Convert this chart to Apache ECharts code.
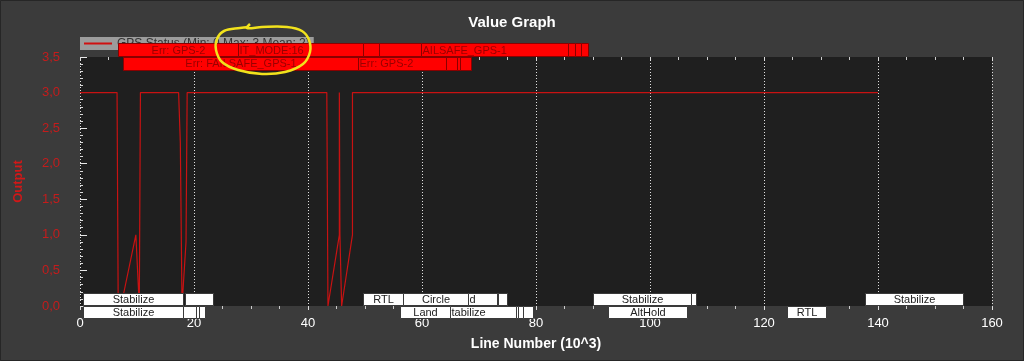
<!DOCTYPE html>
<html>
<head>
<meta charset="utf-8">
<script src="https://cdn.jsdelivr.net/npm/echarts@6/dist/echarts.min.js"></script>
<style>
html,body{margin:0;padding:0;background:#3b3b3b;}
#chart{width:1024px;height:361px;}
</style>
</head>
<body>
<div id="chart"></div>
<script>
// ---- data (x in thousands of log lines) ----
const seriesName = 'GPS Status (Min: 0 Max: 3 Mean: 2)';
const gpsX = [0, 6.5, 6.7, 7.2, 9.8, 10.4, 10.6, 17.3, 17.6, 17.9, 18.6, 18.8, 43.3, 43.5, 43.6, 45.5, 45.5, 45.6, 45.9, 47.8, 47.8, 140];
const gpsY = [3, 3, 0, 0, 1.0, 0, 3, 3, 2.3, 0, 0.9, 3, 3, 0, 0, 1.0, 3, 1.0, 0, 1.0, 3, 3];
const yTicks = [0, 0.5, 1, 1.5, 2, 2.5, 3, 3.5];
const xTicks = [0, 20, 40, 60, 80, 100, 120, 140, 160];

// event boxes: [start, end, text, align]
const errRow1 = [
  [6.67, 27.72, 'Err: GPS-2', 'center'],
  [27.72, 49.65, 'IT_MODE:16', 'left'],
  [49.65, 52.46, '', 'center'],
  [52.46, 59.82, '', 'center'],
  [59.82, 85.61, 'AILSAFE_GPS-1', 'left'],
  [85.61, 86.84, '', 'center'],
  [86.84, 87.89, '', 'center'],
  [87.89, 89.12, '', 'center']
];
const errRow2 = [
  [7.54, 48.77, 'Err: FAILSAFE_GPS-1', 'center'],
  [48.77, 64.21, 'Err: GPS-2', 'left'],
  [64.21, 66.14, '', 'center'],
  [66.14, 66.67, '', 'center'],
  [66.67, 68.6, '', 'center']
];
const modeRowA = [
  [0.53, 18.07, 'Stabilize', 'center'],
  [18.42, 23.33, '', 'center'],
  [49.65, 56.67, 'RTL', 'center'],
  [56.67, 68.07, 'Circle', 'center'],
  [68.07, 73.16, 'd', 'left'],
  [73.33, 74.91, '', 'center'],
  [90.0, 107.19, 'Stabilize', 'center'],
  [107.19, 108.07, '', 'center'],
  [137.72, 154.91, 'Stabilize', 'center']
];
const modeRowB = [
  [0.53, 18.07, 'Stabilize', 'center'],
  [18.07, 20.35, '', 'center'],
  [20.35, 20.88, '', 'center'],
  [20.88, 21.93, '', 'center'],
  [56.14, 64.91, 'Land', 'center'],
  [64.91, 76.49, 'tabilize', 'left'],
  [76.49, 76.84, '', 'center'],
  [76.84, 77.72, '', 'center'],
  [77.72, 79.47, '', 'center'],
  [92.63, 106.49, 'AltHold', 'center'],
  [124.04, 130.88, 'RTL', 'center']
];

// ---- build ----
const FONT = '"Liberation Sans", Arial, sans-serif';
const rows = [
  {items: errRow1, kind: 'err', slot: -2},
  {items: errRow2, kind: 'err', slot: -1},
  {items: modeRowA, kind: 'mode', slot: 1},
  {items: modeRowB, kind: 'mode', slot: 2}
];
const boxes = [];
rows.forEach(r => r.items.forEach(it => boxes.push({x0: it[0], x1: it[1], text: it[2], align: it[3], kind: r.kind, slot: r.slot})));

const chart = echarts.init(document.getElementById('chart'), null, {renderer: 'canvas'});
const gridTop = 57, gridBottom = 55;
const option = {
  backgroundColor: '#3b3b3b',
  animation: false,
  title: {
    text: 'Value Graph', left: 'center', top: 10,
    textStyle: {color: '#ffffff', fontSize: 15, fontWeight: 'bold', fontFamily: FONT}
  },
  legend: {
    data: [seriesName], left: 80, top: 37, z: 1,
    backgroundColor: '#9c9c9c', padding: [0, 4, 0, 4],
    icon: 'rect', itemWidth: 28, itemHeight: 2, itemGap: 5,
    textStyle: {color: '#333333', fontSize: 12, fontFamily: FONT, lineHeight: 13}
  },
  grid: {left: 80, right: 32, top: gridTop, bottom: gridBottom, show: true, backgroundColor: '#1f1f1f', borderWidth: 0},
  xAxis: [{
    type: 'value', min: xTicks[0], max: xTicks[xTicks.length - 1], interval: 20,
    name: 'Line Number (10^3)', nameLocation: 'middle', nameGap: 31,
    nameTextStyle: {color: '#ffffff', fontSize: 14, fontWeight: 'bold', fontFamily: FONT},
    axisLine: {show: false},
    axisTick: {show: true, inside: false, length: 4, lineStyle: {color: '#dddddd'}},
    minorTick: {show: true, splitNumber: 4, length: 3, lineStyle: {color: '#cccccc'}},
    axisLabel: {color: '#ffffff', fontSize: 13, fontFamily: FONT, margin: 11},
    splitLine: {show: true, lineStyle: {color: '#e0e0e0', type: [1, 2], width: 1}}
  }, {
    type: 'value', position: 'top', min: xTicks[0], max: xTicks[xTicks.length - 1], interval: 20,
    axisLine: {show: false}, axisLabel: {show: false}, splitLine: {show: false},
    axisTick: {show: true, inside: true, length: 4, lineStyle: {color: '#dddddd'}},
    minorTick: {show: true, splitNumber: 4, length: 3, lineStyle: {color: '#cccccc'}}
  }],
  yAxis: {
    type: 'value', min: yTicks[0], max: yTicks[yTicks.length - 1], interval: 0.5,
    name: 'Output', nameLocation: 'middle', nameGap: 55, nameRotate: 90,
    nameTextStyle: {color: '#d01818', fontSize: 13, fontWeight: 'bold', fontFamily: FONT},
    axisLine: {show: false},
    axisTick: {show: true, inside: true, length: 7, lineStyle: {color: '#e8e8e8'}},
    minorTick: {show: true, splitNumber: 5, length: 3, lineStyle: {color: '#d8d8d8'}},
    axisLabel: {color: '#c41c1c', fontSize: 13, fontFamily: FONT, margin: 20,
      formatter: v => v.toFixed(1).replace('.', ',')},
    splitLine: {show: false}
  },
  series: [{
    name: seriesName, type: 'line', xAxisIndex: 0,
    data: gpsX.map((x, i) => [x, gpsY[i]]),
    showSymbol: false, symbol: 'none',
    lineStyle: {color: '#c81212', width: 1.2},
    itemStyle: {color: '#d01010'},
    z: 3
  }, {
    type: 'custom', xAxisIndex: 0, clip: false, z: 6,
    encode: {x: [0, 1], y: 2},
    data: boxes.map(b => [b.x0, b.x1, 0]),
    renderItem: function (params, api) {
      const b = boxes[params.dataIndex];
      const p0 = api.coord([api.value(0), 0]);
      const p1 = api.coord([api.value(1), 0]);
      const cs = params.coordSys;
      let top, h;
      if (b.slot === -2) { top = cs.y - 14; h = 14; }
      else if (b.slot === -1) { top = cs.y; h = 13.5; }
      else if (b.slot === 1) { top = cs.y + cs.height - 13; h = 13; }
      else { top = cs.y + cs.height; h = 13; }
      const isErr = b.kind === 'err';
      const x0 = Math.round(p0[0]) + 0.5, w = Math.round(p1[0] - p0[0]);
      const children = [{
        type: 'rect',
        shape: {x: x0, y: Math.round(top) + 0.5, width: w, height: Math.round(h) - 1},
        style: {fill: isErr ? '#ff0000' : '#ffffff', stroke: isErr ? '#8a0000' : '#3a3a3a', lineWidth: 1}
      }];
      if (b.text) {
        children.push({
          type: 'text',
          style: {
            text: b.text,
            x: b.align === 'left' ? x0 + 1 : x0 + w / 2,
            y: top + h / 2 + 0.5,
            align: b.align, verticalAlign: 'middle',
            fill: isErr ? '#9a0000' : '#222222',
            font: '11px ' + FONT
          }
        });
      }
      return {type: 'group', children: children};
    }
  }],
  graphic: [{
    type: 'rect', silent: true, z: 100,
    shape: {x: 0.5, y: 0.5, width: 1023, height: 360},
    style: {fill: 'none', stroke: '#262626', lineWidth: 1}
  }, {
    // hand-drawn yellow highlight annotation
    type: 'polyline', silent: true, z: 100,
    shape: {
      points: [[250, 24], [247, 28], [262, 27], [287, 27], [302, 31], [309, 40], [310, 52], [303, 64], [285, 72], [262, 74], [238, 70], [222, 62], [216, 50], [217, 39], [224, 31], [240, 28], [249, 27]],
      smooth: 0.35
    },
    style: {fill: 'none', stroke: '#f2e21c', lineWidth: 2.5}
  }]
};
chart.setOption(option);
</script>
</body>
</html>
